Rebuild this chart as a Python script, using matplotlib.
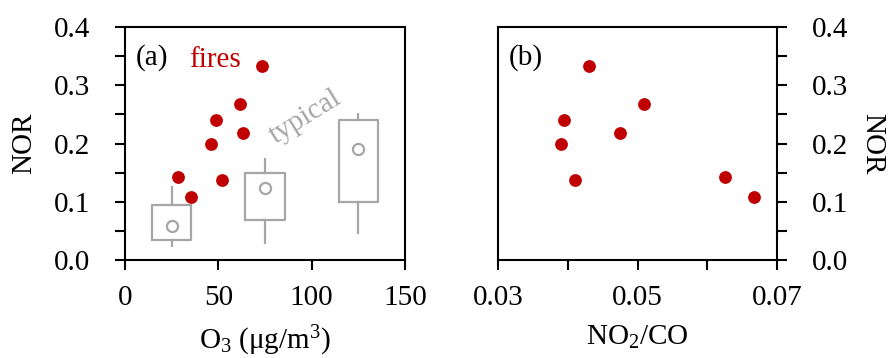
import matplotlib
matplotlib.use('Agg')
import matplotlib.pyplot as plt
from matplotlib.ticker import MultipleLocator

plt.rcParams['font.family'] = ['Liberation Serif', 'DejaVu Serif']
plt.rcParams['mathtext.fontset'] = 'custom'
plt.rcParams['mathtext.rm'] = 'Liberation Serif'
plt.rcParams['mathtext.it'] = 'Liberation Serif:italic'
plt.rcParams['font.size'] = 21

# 火灾期间的观测点
fire_o3 = [28.6, 35.2, 45.9, 48.6, 52.0, 61.4, 63.1, 73.6]
fire_nor = [0.142, 0.108, 0.200, 0.240, 0.137, 0.267, 0.218, 0.333]
fire_ratio = [0.0626, 0.0667, 0.0390, 0.0395, 0.0411, 0.0509, 0.0475, 0.0430]

# 典型情况的箱线统计 (按 O3 分组)
typ_pos = [25, 75, 125]
typ_q1 = [0.034, 0.069, 0.100]
typ_q3 = [0.094, 0.149, 0.241]
typ_lo = [0.024, 0.029, 0.046]
typ_hi = [0.126, 0.174, 0.251]
typ_mean = [0.058, 0.124, 0.190]

nor_ticks = [0.0, 0.1, 0.2, 0.3, 0.4]
nor_labels = ['0.0', '0.1', '0.2', '0.3', '0.4']

RED = '#C00000'
GREY = '#A6A6A6'

fig = plt.figure(figsize=(8.95, 3.58), dpi=100)
ax1 = fig.add_axes([0.1397, 0.2737, 0.3128, 0.6509])
ax2 = fig.add_axes([0.5564, 0.2737, 0.3118, 0.6509])

# (a) NOR vs O3
stats = []
for i in range(len(typ_pos)):
    stats.append(dict(med=typ_mean[i], q1=typ_q1[i], q3=typ_q3[i],
                      whislo=typ_lo[i], whishi=typ_hi[i], mean=typ_mean[i]))
ax1.bxp(stats, positions=typ_pos, widths=21, showcaps=False, showfliers=False,
        showmeans=True, manage_ticks=False,
        boxprops=dict(color=GREY, linewidth=1.6),
        whiskerprops=dict(color=GREY, linewidth=1.6),
        medianprops=dict(linewidth=0),
        meanprops=dict(marker='o', markerfacecolor='white', markeredgecolor=GREY,
                       markersize=8, markeredgewidth=1.6))
ax1.scatter(fire_o3, fire_nor, s=85, color=RED, zorder=3, linewidths=0)
ax1.set_xlim(0, 150)
ax1.set_xticks([0, 50, 100, 150])
ax1.yaxis.set_ticks_position('left')
ax1.xaxis.set_ticks_position('bottom')
ax1.set_ylabel('NOR', labelpad=12)
ax1.set_xlabel('O$_3$ (μg/m$^3$)', labelpad=9)
ax1.text(6, 0.348, '(a)', ha='left', va='center')
ax1.text(48, 0.343, 'fires', color=RED, ha='center', va='center')
ax1.text(96.5, 0.245, 'typical', color=GREY, ha='center', va='center', rotation=32)

# (b) NOR vs NO2/CO
ax2.scatter(fire_ratio, fire_nor, s=85, color=RED, zorder=3, linewidths=0)
ax2.set_xlim(0.03, 0.07)
ax2.set_xticks([0.03, 0.05, 0.07])
ax2.set_xticklabels(['0.03', '0.05', '0.07'])
ax2.xaxis.set_minor_locator(MultipleLocator(0.01))
ax2.yaxis.set_ticks_position('right')
ax2.xaxis.set_ticks_position('bottom')
ax2.yaxis.set_label_position('right')
ax2.set_ylabel('NOR', rotation=-90, va='bottom', labelpad=8)
ax2.set_xlabel('NO$_2$/CO', labelpad=9)
ax2.text(0.0315, 0.348, '(b)', ha='left', va='center')

for ax in (ax1, ax2):
    for sp in ax.spines.values():
        sp.set_linewidth(1.5)
    ax.set_ylim(0, 0.4)
    ax.set_yticks(nor_ticks)
    ax.set_yticklabels(nor_labels)
    ax.yaxis.set_minor_locator(MultipleLocator(0.05))
    ax.tick_params(which='both', direction='out', width=1.5, length=7)
    ax.tick_params(axis='x', which='both', pad=11)
    ax.tick_params(axis='y', which='both', pad=18)

fig.savefig('out.png', dpi=100, facecolor='white')
